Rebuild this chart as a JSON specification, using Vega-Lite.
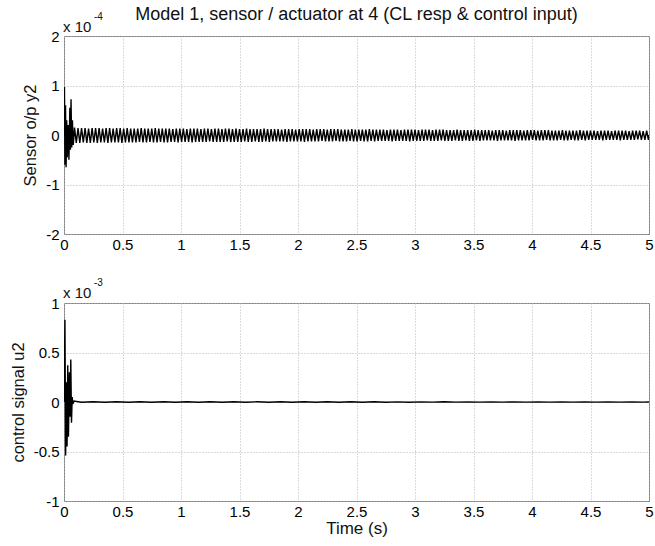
{
  "$schema": "https://vega.github.io/schema/vega-lite/v6.json",
  "background": "white",
  "padding": {"left": 9, "top": 5, "right": 0, "bottom": 3},
  "spacing": 69,
  "bounds": "flush",
  "config": {
    "font": "Liberation Sans",
    "view": {"stroke": "#7f7f7f", "strokeWidth": 1},
    "axis": {
      "domain": false,
      "ticks": false,
      "grid": true,
      "gridColor": "#b5b5b5",
      "gridDash": [1, 2],
      "gridWidth": 1,
      "labelFont": "Liberation Sans",
      "labelFontSize": 15,
      "labelColor": "#000000",
      "titleFont": "Liberation Sans",
      "titleFontWeight": "normal",
      "titleColor": "#111111",
      "titleFontSize": 16.5
    },
    "title": {"font": "Liberation Sans", "fontSize": 18, "fontWeight": "normal", "color": "#111111"}
  },
  "datasets": {
    "sensor": [
      {"t":0,"y":0},{"t":0.004,"y":0.97},{"t":0.008,"y":-0.6},{"t":0.013,"y":0.6},{"t":0.018,"y":-0.65},{"t":0.023,"y":0.3},{"t":0.028,"y":-0.45},{"t":0.035,"y":0.2},{"t":0.042,"y":-0.5},{"t":0.05,"y":0.55},{"t":0.055,"y":-0.3},{"t":0.06,"y":0.72},{"t":0.066,"y":-0.25},{"t":0.072,"y":0.3},{"t":0.079,"y":-0.2},
      {"t":0.09,"y":0.15},{"t":0.105,"y":-0.16},{"t":0.12,"y":0.14},{"t":0.135,"y":-0.16},{"t":0.15,"y":0.14},{"t":0.165,"y":-0.15},{"t":0.18,"y":0.14},{"t":0.195,"y":-0.16},{"t":0.21,"y":0.13},{"t":0.225,"y":-0.16},{"t":0.24,"y":0.14},{"t":0.255,"y":-0.15},{"t":0.27,"y":0.14},{"t":0.285,"y":-0.16},
      {"t":0.3,"y":0.14},{"t":0.315,"y":-0.15},{"t":0.33,"y":0.13},{"t":0.345,"y":-0.15},{"t":0.36,"y":0.14},{"t":0.375,"y":-0.16},{"t":0.39,"y":0.14},{"t":0.405,"y":-0.15},{"t":0.42,"y":0.13},{"t":0.435,"y":-0.15},{"t":0.45,"y":0.14},{"t":0.465,"y":-0.15},{"t":0.48,"y":0.14},{"t":0.495,"y":-0.16},{"t":0.51,"y":0.13},{"t":0.525,"y":-0.15},{"t":0.54,"y":0.14},{"t":0.555,"y":-0.15},{"t":0.57,"y":0.13},{"t":0.585,"y":-0.15},
      {"t":0.6,"y":0.13},{"t":0.615,"y":-0.15},{"t":0.63,"y":0.13},{"t":0.645,"y":-0.14},{"t":0.66,"y":0.14},{"t":0.675,"y":-0.15},{"t":0.69,"y":0.13},{"t":0.705,"y":-0.15},{"t":0.72,"y":0.13},{"t":0.735,"y":-0.14},{"t":0.75,"y":0.13},{"t":0.765,"y":-0.15},{"t":0.78,"y":0.14},{"t":0.795,"y":-0.15},{"t":0.81,"y":0.13},{"t":0.825,"y":-0.14},{"t":0.84,"y":0.13},{"t":0.855,"y":-0.15},{"t":0.87,"y":0.13},{"t":0.885,"y":-0.15},
      {"t":0.9,"y":0.13},{"t":0.915,"y":-0.14},{"t":0.93,"y":0.12},{"t":0.945,"y":-0.14},{"t":0.96,"y":0.13},{"t":0.975,"y":-0.15},{"t":0.99,"y":0.13},{"t":1.005,"y":-0.14},{"t":1.02,"y":0.13},{"t":1.035,"y":-0.14},{"t":1.05,"y":0.12},{"t":1.065,"y":-0.14},{"t":1.08,"y":0.13},{"t":1.095,"y":-0.15},{"t":1.11,"y":0.13},{"t":1.125,"y":-0.14},{"t":1.14,"y":0.13},{"t":1.155,"y":-0.14},{"t":1.17,"y":0.12},{"t":1.185,"y":-0.14},
      {"t":1.2,"y":0.13},{"t":1.215,"y":-0.14},{"t":1.23,"y":0.13},{"t":1.245,"y":-0.13},{"t":1.26,"y":0.12},{"t":1.275,"y":-0.14},{"t":1.29,"y":0.13},{"t":1.305,"y":-0.14},{"t":1.32,"y":0.13},{"t":1.335,"y":-0.14},{"t":1.35,"y":0.12},{"t":1.365,"y":-0.14},{"t":1.38,"y":0.13},{"t":1.395,"y":-0.13},{"t":1.41,"y":0.13},{"t":1.425,"y":-0.14},{"t":1.44,"y":0.12},{"t":1.455,"y":-0.14},{"t":1.47,"y":0.13},{"t":1.485,"y":-0.14},
      {"t":1.5,"y":0.12},{"t":1.515,"y":-0.14},{"t":1.53,"y":0.12},{"t":1.545,"y":-0.13},{"t":1.56,"y":0.13},{"t":1.575,"y":-0.14},{"t":1.59,"y":0.12},{"t":1.605,"y":-0.14},{"t":1.62,"y":0.12},{"t":1.635,"y":-0.13},{"t":1.65,"y":0.12},{"t":1.665,"y":-0.14},{"t":1.68,"y":0.12},{"t":1.695,"y":-0.14},{"t":1.71,"y":0.13},{"t":1.725,"y":-0.13},{"t":1.74,"y":0.12},{"t":1.755,"y":-0.14},{"t":1.77,"y":0.12},{"t":1.785,"y":-0.13},
      {"t":1.8,"y":0.12},{"t":1.815,"y":-0.13},{"t":1.83,"y":0.12},{"t":1.845,"y":-0.13},{"t":1.86,"y":0.11},{"t":1.875,"y":-0.13},{"t":1.89,"y":0.12},{"t":1.905,"y":-0.14},{"t":1.92,"y":0.12},{"t":1.935,"y":-0.13},{"t":1.95,"y":0.12},{"t":1.965,"y":-0.13},{"t":1.98,"y":0.11},{"t":1.995,"y":-0.13},{"t":2.01,"y":0.12},{"t":2.025,"y":-0.13},{"t":2.04,"y":0.12},{"t":2.055,"y":-0.14},{"t":2.07,"y":0.12},{"t":2.085,"y":-0.13},
      {"t":2.1,"y":0.12},{"t":2.115,"y":-0.13},{"t":2.13,"y":0.11},{"t":2.145,"y":-0.13},{"t":2.16,"y":0.12},{"t":2.175,"y":-0.13},{"t":2.19,"y":0.12},{"t":2.205,"y":-0.12},{"t":2.22,"y":0.12},{"t":2.235,"y":-0.13},{"t":2.25,"y":0.11},{"t":2.265,"y":-0.13},{"t":2.28,"y":0.12},{"t":2.295,"y":-0.13},{"t":2.31,"y":0.12},{"t":2.325,"y":-0.12},{"t":2.34,"y":0.12},{"t":2.355,"y":-0.13},{"t":2.37,"y":0.11},{"t":2.385,"y":-0.13},
      {"t":2.4,"y":0.11},{"t":2.415,"y":-0.13},{"t":2.43,"y":0.11},{"t":2.445,"y":-0.12},{"t":2.46,"y":0.12},{"t":2.475,"y":-0.13},{"t":2.49,"y":0.11},{"t":2.505,"y":-0.13},{"t":2.52,"y":0.11},{"t":2.535,"y":-0.12},{"t":2.55,"y":0.11},{"t":2.565,"y":-0.13},{"t":2.58,"y":0.11},{"t":2.595,"y":-0.13},{"t":2.61,"y":0.12},{"t":2.625,"y":-0.12},{"t":2.64,"y":0.11},{"t":2.655,"y":-0.13},{"t":2.67,"y":0.11},{"t":2.685,"y":-0.12},
      {"t":2.7,"y":0.11},{"t":2.715,"y":-0.12},{"t":2.73,"y":0.11},{"t":2.745,"y":-0.12},{"t":2.76,"y":0.1},{"t":2.775,"y":-0.12},{"t":2.79,"y":0.11},{"t":2.805,"y":-0.13},{"t":2.82,"y":0.11},{"t":2.835,"y":-0.12},{"t":2.85,"y":0.11},{"t":2.865,"y":-0.12},{"t":2.88,"y":0.1},{"t":2.895,"y":-0.12},{"t":2.91,"y":0.11},{"t":2.925,"y":-0.12},{"t":2.94,"y":0.11},{"t":2.955,"y":-0.13},{"t":2.97,"y":0.11},{"t":2.985,"y":-0.12},
      {"t":3,"y":0.11},{"t":3.015,"y":-0.12},{"t":3.03,"y":0.1},{"t":3.045,"y":-0.12},{"t":3.06,"y":0.11},{"t":3.075,"y":-0.12},{"t":3.09,"y":0.11},{"t":3.105,"y":-0.11},{"t":3.12,"y":0.11},{"t":3.135,"y":-0.12},{"t":3.15,"y":0.1},{"t":3.165,"y":-0.12},{"t":3.18,"y":0.11},{"t":3.195,"y":-0.12},{"t":3.21,"y":0.11},{"t":3.225,"y":-0.11},{"t":3.24,"y":0.11},{"t":3.255,"y":-0.12},{"t":3.27,"y":0.1},{"t":3.285,"y":-0.12},
      {"t":3.3,"y":0.1},{"t":3.315,"y":-0.12},{"t":3.33,"y":0.1},{"t":3.345,"y":-0.11},{"t":3.36,"y":0.11},{"t":3.375,"y":-0.12},{"t":3.39,"y":0.1},{"t":3.405,"y":-0.12},{"t":3.42,"y":0.1},{"t":3.435,"y":-0.11},{"t":3.45,"y":0.1},{"t":3.465,"y":-0.12},{"t":3.48,"y":0.1},{"t":3.495,"y":-0.12},{"t":3.51,"y":0.11},{"t":3.525,"y":-0.11},{"t":3.54,"y":0.1},{"t":3.555,"y":-0.12},{"t":3.57,"y":0.1},{"t":3.585,"y":-0.11},
      {"t":3.6,"y":0.1},{"t":3.615,"y":-0.11},{"t":3.63,"y":0.1},{"t":3.645,"y":-0.11},{"t":3.66,"y":0.09},{"t":3.675,"y":-0.11},{"t":3.69,"y":0.1},{"t":3.705,"y":-0.12},{"t":3.72,"y":0.1},{"t":3.735,"y":-0.11},{"t":3.75,"y":0.1},{"t":3.765,"y":-0.11},{"t":3.78,"y":0.09},{"t":3.795,"y":-0.11},{"t":3.81,"y":0.1},{"t":3.825,"y":-0.11},{"t":3.84,"y":0.1},{"t":3.855,"y":-0.12},{"t":3.87,"y":0.1},{"t":3.885,"y":-0.11},
      {"t":3.9,"y":0.1},{"t":3.915,"y":-0.11},{"t":3.93,"y":0.09},{"t":3.945,"y":-0.11},{"t":3.96,"y":0.1},{"t":3.975,"y":-0.11},{"t":3.99,"y":0.1},{"t":4.005,"y":-0.1},{"t":4.02,"y":0.1},{"t":4.035,"y":-0.11},{"t":4.05,"y":0.09},{"t":4.065,"y":-0.11},{"t":4.08,"y":0.1},{"t":4.095,"y":-0.11},{"t":4.11,"y":0.1},{"t":4.125,"y":-0.1},{"t":4.14,"y":0.1},{"t":4.155,"y":-0.11},{"t":4.17,"y":0.09},{"t":4.185,"y":-0.11},
      {"t":4.2,"y":0.09},{"t":4.215,"y":-0.11},{"t":4.23,"y":0.09},{"t":4.245,"y":-0.1},{"t":4.26,"y":0.1},{"t":4.275,"y":-0.11},{"t":4.29,"y":0.09},{"t":4.305,"y":-0.11},{"t":4.32,"y":0.09},{"t":4.335,"y":-0.1},{"t":4.35,"y":0.09},{"t":4.365,"y":-0.11},{"t":4.38,"y":0.09},{"t":4.395,"y":-0.11},{"t":4.41,"y":0.1},{"t":4.425,"y":-0.1},{"t":4.44,"y":0.09},{"t":4.455,"y":-0.11},{"t":4.47,"y":0.09},{"t":4.485,"y":-0.1},
      {"t":4.5,"y":0.09},{"t":4.515,"y":-0.1},{"t":4.53,"y":0.09},{"t":4.545,"y":-0.1},{"t":4.56,"y":0.08},{"t":4.575,"y":-0.1},{"t":4.59,"y":0.09},{"t":4.605,"y":-0.11},{"t":4.62,"y":0.09},{"t":4.635,"y":-0.1},{"t":4.65,"y":0.09},{"t":4.665,"y":-0.1},{"t":4.68,"y":0.08},{"t":4.695,"y":-0.1},{"t":4.71,"y":0.09},{"t":4.725,"y":-0.1},{"t":4.74,"y":0.09},{"t":4.755,"y":-0.11},{"t":4.77,"y":0.09},{"t":4.785,"y":-0.1},
      {"t":4.8,"y":0.09},{"t":4.815,"y":-0.1},{"t":4.83,"y":0.08},{"t":4.845,"y":-0.1},{"t":4.86,"y":0.09},{"t":4.875,"y":-0.1},{"t":4.89,"y":0.09},{"t":4.905,"y":-0.09},{"t":4.92,"y":0.09},{"t":4.935,"y":-0.1},{"t":4.95,"y":0.08},{"t":4.965,"y":-0.1},{"t":4.98,"y":0.09},{"t":4.995,"y":-0.1},{"t":5,"y":0}
    ],
    "control": [
      {"t":0,"y":0},{"t":0.008,"y":0.83},{"t":0.014,"y":-0.54},{"t":0.02,"y":0.2},{"t":0.026,"y":-0.45},{"t":0.032,"y":0.37},{"t":0.038,"y":-0.35},{"t":0.046,"y":0.3},{"t":0.052,"y":-0.15},{"t":0.058,"y":0.43},{"t":0.064,"y":-0.21},{"t":0.07,"y":0.05},{"t":0.076,"y":-0.02},{"t":0.085,"y":0.01},
      {"t":0.15,"y":-0.002},{"t":0.25,"y":0.002},{"t":0.35,"y":-0.002},{"t":0.45,"y":0.002},{"t":0.55,"y":-0.002},{"t":0.65,"y":0.002},{"t":0.75,"y":-0.002},{"t":0.85,"y":0.002},{"t":0.95,"y":-0.002},{"t":1.05,"y":0.002},
      {"t":1.15,"y":-0.002},{"t":1.25,"y":0.002},{"t":1.35,"y":-0.002},{"t":1.45,"y":0.002},{"t":1.55,"y":-0.002},{"t":1.65,"y":0.002},{"t":1.75,"y":-0.002},{"t":1.85,"y":0.002},{"t":1.95,"y":-0.002},{"t":2.05,"y":0.002},
      {"t":2.15,"y":-0.002},{"t":2.25,"y":0.002},{"t":2.35,"y":-0.002},{"t":2.45,"y":0.002},{"t":2.55,"y":-0.002},{"t":2.65,"y":0.002},{"t":2.75,"y":-0.002},{"t":2.85,"y":0.001},{"t":2.95,"y":-0.002},{"t":3.05,"y":0.001},
      {"t":3.15,"y":-0.001},{"t":3.25,"y":0.002},{"t":3.35,"y":-0.001},{"t":3.45,"y":0.001},{"t":3.55,"y":-0.001},{"t":3.65,"y":0.001},{"t":3.75,"y":-0.001},{"t":3.85,"y":0.001},{"t":3.95,"y":-0.001},{"t":4.05,"y":0.001},
      {"t":4.15,"y":-0.001},{"t":4.25,"y":0.001},{"t":4.35,"y":-0.001},{"t":4.45,"y":0.001},{"t":4.55,"y":-0.001},{"t":4.65,"y":0.001},{"t":4.75,"y":-0.001},{"t":4.85,"y":0.001},{"t":4.95,"y":-0.001},{"t":5,"y":0}
    ],
    "topnote": [{"base": "x 10", "exp": "-4"}],
    "botnote": [{"base": "x 10", "exp": "-3"}]
  },
  "vconcat": [
    {
      "width": 585,
      "height": 198,
      "title": {"text": "Model 1, sensor / actuator at 4 (CL resp & control input)", "anchor": "middle", "frame": "group", "offset": -12},
      "layer": [
        {
          "data": {"name": "sensor"},
          "mark": {"type": "line", "color": "black", "strokeWidth": 1.4, "clip": true},
          "encoding": {
            "x": {"field": "t", "type": "quantitative", "scale": {"domain": [0, 5], "nice": false, "zero": false},
              "axis": {"values": [0, 0.5, 1, 1.5, 2, 2.5, 3, 3.5, 4, 4.5, 5], "labelExpr": "datum.value + ''", "title": null, "labelPadding": 3, "labelFlush": false}},
            "y": {"field": "y", "type": "quantitative", "scale": {"domain": [-2, 2], "nice": false},
              "axis": {"values": [-2, -1, 0, 1, 2], "labelExpr": "datum.value + ''", "title": "Sensor o/p y2", "titlePadding": 7, "labelPadding": 5}}
          }
        },
        {
          "data": {"name": "topnote"},
          "mark": {"type": "text", "align": "left", "baseline": "alphabetic", "dx": -1, "dy": -4, "fontSize": 15, "color": "#111111"},
          "encoding": {"x": {"datum": 0, "type": "quantitative"}, "y": {"datum": 2, "type": "quantitative"}, "text": {"field": "base"}}
        },
        {
          "data": {"name": "topnote"},
          "mark": {"type": "text", "align": "left", "baseline": "alphabetic", "dx": 30, "dy": -16, "fontSize": 10, "color": "#111111"},
          "encoding": {"x": {"datum": 0, "type": "quantitative"}, "y": {"datum": 2, "type": "quantitative"}, "text": {"field": "exp"}}
        }
      ]
    },
    {
      "width": 585,
      "height": 198,
      "layer": [
        {
          "data": {"name": "control"},
          "mark": {"type": "line", "color": "black", "strokeWidth": 1.4, "clip": true},
          "encoding": {
            "x": {"field": "t", "type": "quantitative", "scale": {"domain": [0, 5], "nice": false, "zero": false},
              "axis": {"values": [0, 0.5, 1, 1.5, 2, 2.5, 3, 3.5, 4, 4.5, 5], "labelExpr": "datum.value + ''", "title": "Time (s)", "titleFontSize": 17, "titlePadding": 1, "labelPadding": 3, "labelFlush": false}},
            "y": {"field": "y", "type": "quantitative", "scale": {"domain": [-1, 1], "nice": false},
              "axis": {"values": [-1, -0.5, 0, 0.5, 1], "labelExpr": "datum.value + ''", "title": "control signal u2", "titlePadding": 7, "labelPadding": 5}}
          }
        },
        {
          "data": {"name": "botnote"},
          "mark": {"type": "text", "align": "left", "baseline": "alphabetic", "dx": -1, "dy": -5, "fontSize": 15, "color": "#111111"},
          "encoding": {"x": {"datum": 0, "type": "quantitative"}, "y": {"datum": 1, "type": "quantitative"}, "text": {"field": "base"}}
        },
        {
          "data": {"name": "botnote"},
          "mark": {"type": "text", "align": "left", "baseline": "alphabetic", "dx": 30, "dy": -17, "fontSize": 10, "color": "#111111"},
          "encoding": {"x": {"datum": 0, "type": "quantitative"}, "y": {"datum": 1, "type": "quantitative"}, "text": {"field": "exp"}}
        }
      ]
    }
  ]
}
